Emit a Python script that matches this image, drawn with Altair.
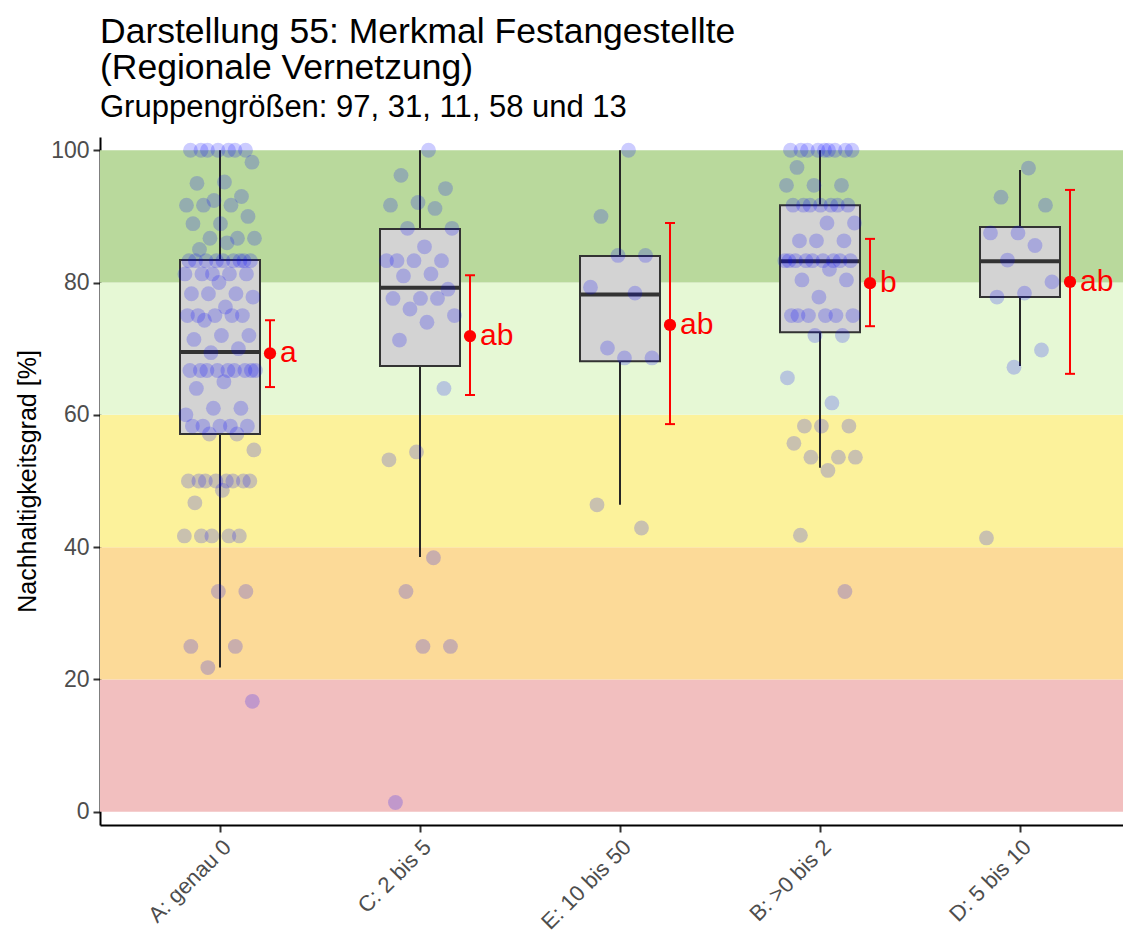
import altair as alt
import pandas as pd

# ---------------- data ----------------
categories = ["A: genau 0", "C: 2 bis 5", "E: 10 bis 50", "B: >0 bis 2", "D: 5 bis 10"]
positions = [1, 2, 3, 4, 5]

q1 = [57.1, 67.4, 68.1, 72.5, 77.8]
medians = [69.5, 79.2, 78.2, 83.2, 83.2]
q3 = [83.4, 88.1, 84.0, 91.7, 88.4]
whisker_lo = [21.8, 38.5, 46.4, 52.0, 67.4]
whisker_hi = [100.0, 100.0, 100.0, 100.0, 97.0]

means = [69.3, 71.9, 73.6, 79.9, 80.1]
ci_lo = [64.2, 63.0, 58.6, 73.4, 66.2]
ci_hi = [74.3, 81.1, 89.0, 86.6, 94.0]
letters = ["a", "ab", "ab", "b", "ab"]

values_A = [100, 100, 100, 100, 100, 100, 100, 98.2, 95.2, 95.0, 93.0, 92.4,
            91.7, 91.7, 91.7, 90.0, 88.9, 88.9, 86.7, 86.7, 86.7, 86.0, 85.0,
            83.3, 83.3, 83.3, 83.3, 83.3, 83.3, 83.3, 83.3, 83.3,
            81.3, 81.3, 81.3, 81.3, 81.3, 80.0, 78.3, 78.3, 78.3, 77.8, 76.3,
            75.0, 75.0, 75.0, 75.0, 75.0, 74.3, 72.0, 72.0, 71.4, 70.0, 69.4,
            66.7, 66.7, 66.7, 66.7, 66.7, 66.7, 66.7, 66.7, 66.7,
            65.0, 64.0, 61.0, 61.0, 60.0, 58.3, 58.3, 58.3, 58.3, 58.3,
            57.1, 57.1, 54.7, 50.0, 50.0, 50.0, 50.0, 50.0, 50.0, 50.0, 50.0,
            48.6, 46.7, 41.7, 41.7, 41.7, 41.7, 41.7, 33.3, 33.3, 25.0, 25.0,
            21.8, 16.7]
values_C = [100, 96.2, 94.2, 92.1, 91.7, 91.2, 88.2, 88.2, 85.4, 83.3, 83.3,
            83.3, 83.3, 81.3, 81.0, 79.0, 77.6, 77.6, 77.6, 76.0, 75.0, 74.0,
            71.3, 64.0, 54.4, 53.2, 38.4, 33.3, 25.0, 25.0, 1.4]
values_E = [100, 90.0, 84.1, 84.1, 79.3, 78.4, 70.1, 68.6, 68.6, 46.4, 42.9]
values_B = [100, 100, 100, 100, 100, 100, 100, 100, 100, 97.4, 94.7, 94.7, 94.7,
            91.7, 91.7, 91.7, 91.7, 91.7, 91.7, 91.7, 89.0, 89.0, 86.3, 86.3,
            86.3, 83.3, 83.3, 83.3, 83.3, 83.3, 83.3, 83.3, 83.3, 83.3, 82.0,
            80.4, 80.4, 77.8, 75.0, 75.0, 75.0, 75.0, 75.0, 75.0, 72.0, 72.0,
            65.6, 61.8, 58.3, 58.3, 58.3, 55.7, 53.6, 53.6, 53.6, 51.6, 41.8,
            33.3]
values_D = [97.3, 92.9, 91.7, 87.5, 87.5, 85.6, 83.4, 80.1, 78.4, 77.8, 69.8,
            67.2, 41.4]

band_lo = [0, 20, 40, 60, 80]
band_hi = [20, 40, 60, 80, 100]
band_names = ["0-20", "20-40", "40-60", "60-80", "80-100"]
band_colors = ["#F2BFBF", "#FCDA98", "#FCF29B", "#E6F8D5", "#B9D99C"]

title_lines = ["Darstellung 55: Merkmal Festangestellte", "(Regionale Vernetzung)"]
subtitle = "Gruppengrößen: 97, 31, 11, 58 und 13"
y_title = "Nachhaltigkeitsgrad [%]"

# ---------------- tables ----------------
stats = pd.DataFrame({
    "cat": categories, "pos": positions, "q1": q1, "med": medians, "q3": q3,
    "lo": whisker_lo, "hi": whisker_hi, "mean": means,
    "cilo": ci_lo, "cihi": ci_hi, "letter": letters,
})

groups = [values_A, values_C, values_E, values_B, values_D]
rows = []
for p, vals in zip(positions, groups):
    for v in vals:
        rows.append({"pos": p, "value": v})
points = pd.DataFrame(rows)

bands = pd.DataFrame({"band": band_names, "lo": band_lo, "hi": band_hi})

# ---------------- layout ----------------
W = 1023
H = 688
FONT = "Liberation Sans"

label_expr = "[" + ",".join("'" + c + "'" for c in categories) + "][datum.value - 1]"

x_scale = alt.Scale(domain=[0.4, 0.4 + W / 200], nice=False, zero=False)
y_scale = alt.Scale(domain=[-2, 102], nice=False, zero=False)

x_axis = alt.Axis(values=positions, labelExpr=label_expr, labelAngle=315,
                  labelAlign="right", labelBaseline="top", title=None,
                  grid=False, domainColor="#000000", domainWidth=2,
                  tickColor="#333333", tickWidth=2, tickSize=7,
                  labelFontSize=22, labelColor="#4D4D4D", labelFont=FONT,
                  labelPadding=4, labelOverlap=False)
y_axis = alt.Axis(values=[0, 20, 40, 60, 80, 100], title=y_title, grid=False,
                  domainColor="#000000", domainWidth=2, tickColor="#333333",
                  tickWidth=2, tickSize=7, labelFontSize=23, labelColor="#4D4D4D",
                  labelFont=FONT, labelPadding=4, titleFont=FONT, titleFontSize=25,
                  titleFontWeight="normal", titleColor="#000000", titlePadding=10)


def X(field):
    return alt.X(field, type="quantitative", scale=x_scale, axis=x_axis)


def Y(field):
    return alt.Y(field, type="quantitative", scale=y_scale, axis=y_axis)


band_layer = alt.Chart(bands).mark_rect().encode(
    x=alt.value(0), x2=alt.value(W),
    y=Y("lo"), y2="hi",
    color=alt.Color("band:N", scale=alt.Scale(domain=band_names, range=band_colors),
                    legend=None),
)

base = alt.Chart(stats).transform_calculate(
    bl="datum.pos - 0.2", br="datum.pos + 0.2",
    mx="datum.pos + 0.25", cl="datum.pos + 0.225", cr="datum.pos + 0.275",
)

whiskers = base.mark_rule(color="#262626", strokeWidth=2).encode(
    x=X("pos"), y=Y("lo"), y2="hi")

boxes = base.mark_rect(fill="#D3D3D3", stroke="#333333", strokeWidth=2).encode(
    x=X("bl"), x2="br", y=Y("q1"), y2="q3")

median_lines = base.mark_rule(color="#333333", strokeWidth=4).encode(
    x=X("bl"), x2="br", y=Y("med"))

pts = alt.Chart(points).transform_window(
    rn="row_number()", groupby=["pos"]
).transform_calculate(
    jx="datum.pos + ((datum.rn * 0.618034) % 1 - 0.5) * 0.36"
).mark_circle(color="#0000FF", opacity=0.2, size=220).encode(
    x=X("jx"), y=Y("value"))

err = base.mark_rule(color="#FF0000", strokeWidth=2).encode(
    x=X("mx"), y=Y("cilo"), y2="cihi")
cap_lo = base.mark_rule(color="#FF0000", strokeWidth=2).encode(
    x=X("cl"), x2="cr", y=Y("cilo"))
cap_hi = base.mark_rule(color="#FF0000", strokeWidth=2).encode(
    x=X("cl"), x2="cr", y=Y("cihi"))
mean_pts = base.mark_circle(color="#FF0000", opacity=1, size=150).encode(
    x=X("mx"), y=Y("mean"))
letter_txt = base.mark_text(color="#FF0000", align="left", baseline="middle",
                            dx=10, fontSize=30, font=FONT).encode(
    x=X("mx"), y=Y("mean"), text="letter:N")

chart = alt.layer(
    band_layer, whiskers, boxes, median_lines, pts,
    err, cap_lo, cap_hi, mean_pts, letter_txt,
).properties(
    width=W, height=H,
    background="white",
    padding={"left": 92, "top": 129, "right": 0, "bottom": 106},
    autosize=alt.AutoSizeParams(type="none"),
    title=alt.TitleParams(
        text=title_lines, subtitle=subtitle, anchor="start", frame="group",
        font=FONT, fontSize=35.5, fontWeight="normal", color="#000000",
        lineHeight=36, subtitleFont=FONT, subtitleFontSize=31,
        subtitleColor="#000000", subtitlePadding=7, offset=14,
    ),
).configure_view(stroke=None)

chart.save("out.html", embed_options={"renderer": "svg", "actions": False})
